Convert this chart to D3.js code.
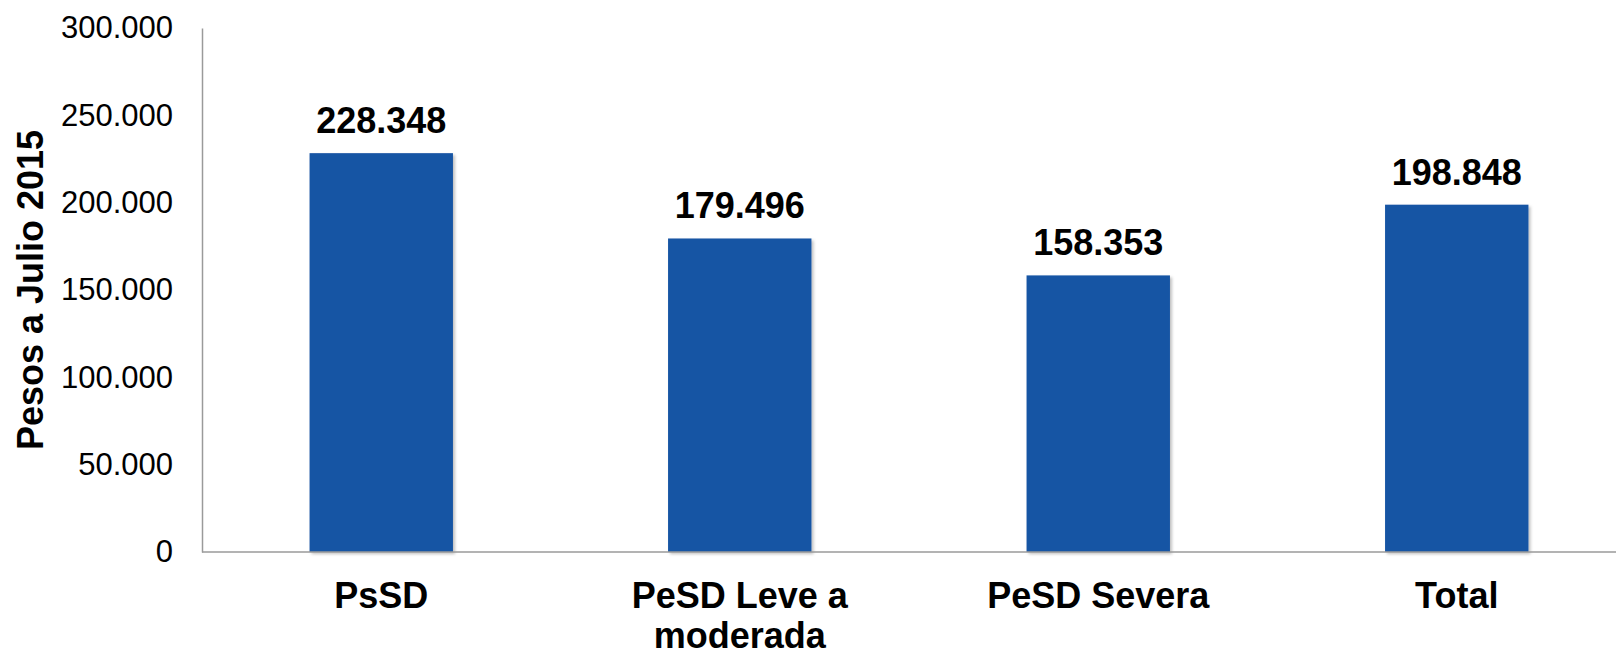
<!DOCTYPE html>
<html>
<head>
<meta charset="utf-8">
<script src="https://cdn.jsdelivr.net/npm/d3@7"></script>
<style>
  html, body { margin: 0; padding: 0; background: #fff; }
  svg { display: block; font-family: "Liberation Sans", Arial, sans-serif; }
</style>
</head>
<body>
<svg id="chart" width="1616" height="653"></svg>
<script>
const categories = ["PsSD", "PeSD Leve a moderada", "PeSD Severa", "Total"];
const values = [228348, 179496, 158353, 198848];
const yTicks = [0, 50000, 100000, 150000, 200000, 250000, 300000];
const yTitle = "Pesos a Julio 2015";

(function () {
const svg = d3.select("#chart");
const W = 1616;
const mLeft = 202, mTop = 28, mBottom = 552, mRight = 1636;

const loc = d3.formatLocale({decimal: ",", thousands: ".", grouping: [3], currency: ["$", ""]});
const fmt = loc.format(",");

const x = d3.scaleBand().domain(categories).range([mLeft, mRight]).paddingInner(0.6).paddingOuter(0.3);
const y = d3.scaleLinear().domain([0, 300000]).range([mBottom, mTop]);

const defs = svg.append("defs");
const f = defs.append("filter").attr("id", "sh").attr("x", "-10%").attr("y", "-10%").attr("width", "130%").attr("height", "130%");
f.append("feDropShadow").attr("dx", 2).attr("dy", 2).attr("stdDeviation", 1.5).attr("flood-color", "#000").attr("flood-opacity", 0.25);

// bars
svg.append("g").selectAll("rect").data(categories).join("rect")
  .attr("x", d => x(d))
  .attr("y", (d, i) => y(values[i]))
  .attr("width", x.bandwidth())
  .attr("height", (d, i) => y(0) - y(values[i]))
  .attr("fill", "#1454A4")
  .attr("filter", "url(#sh)");

// y axis
const yAxis = d3.axisLeft(y).tickValues(yTicks).tickSize(0).tickPadding(29)
  .tickFormat(d => fmt(d));
const gy = svg.append("g").attr("transform", `translate(${mLeft},0)`).call(yAxis);
gy.select(".domain").attr("stroke", "#9a9a9a").attr("stroke-width", 1.5);
gy.selectAll("text").attr("font-size", 31).attr("fill", "#000").attr("font-family", "'Liberation Sans', Arial, sans-serif");

// x axis baseline
const xAxis = d3.axisBottom(x).tickSize(0).tickFormat("");
const gx = svg.append("g").attr("transform", `translate(0,${mBottom})`).call(xAxis);
gx.select(".domain").attr("stroke", "#9a9a9a").attr("stroke-width", 1.5)
  .attr("d", `M${mLeft},0H${W}`);

// category labels with wrapping
const maxW = 300;
const labels = svg.append("g").selectAll("text").data(categories).join("text")
  .attr("x", d => x(d) + x.bandwidth() / 2)
  .attr("y", 608)
  .attr("text-anchor", "middle")
  .attr("font-size", 36)
  .attr("font-weight", "bold")
  .attr("fill", "#000");
labels.each(function(d) {
  const t = d3.select(this);
  const cx = x(d) + x.bandwidth() / 2;
  const words = d.split(" ");
  let line = [];
  let ts = t.append("tspan").attr("x", cx).attr("dy", 0);
  words.forEach(w => {
    line.push(w);
    ts.text(line.join(" "));
    if (ts.node().getComputedTextLength() > maxW && line.length > 1) {
      line.pop();
      ts.text(line.join(" "));
      line = [w];
      ts = t.append("tspan").attr("x", cx).attr("dy", 40).text(w);
    }
  });
});

// value labels
svg.append("g").selectAll("text").data(categories).join("text")
  .attr("x", d => x(d) + x.bandwidth() / 2)
  .attr("y", (d, i) => y(values[i]) - 20)
  .attr("text-anchor", "middle")
  .attr("font-size", 36)
  .attr("font-weight", "bold")
  .attr("fill", "#000")
  .text((d, i) => fmt(values[i]));

// y title
svg.append("text")
  .attr("transform", `translate(43,${(mTop + mBottom) / 2}) rotate(-90)`)
  .attr("text-anchor", "middle")
  .attr("font-size", 36)
  .attr("font-weight", "bold")
  .attr("fill", "#000")
  .text(yTitle);
})();
</script>
</body>
</html>
